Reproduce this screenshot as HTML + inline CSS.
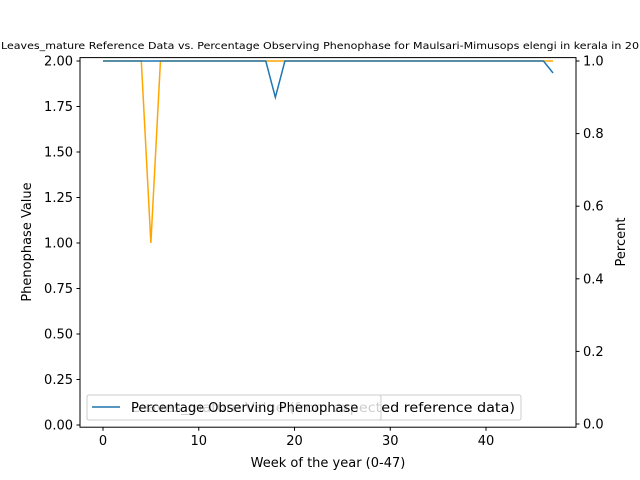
<!DOCTYPE html>
<html><head><meta charset="utf-8"><style>body{margin:0;background:#fff}svg{display:block;font-family:"DejaVu Sans","Liberation Sans",sans-serif}</style></head>
<body>
<svg id="c" width="640" height="480" viewBox="0 0 640 480">
<text x="1" y="49" font-size="9.5" textLength="638" lengthAdjust="spacingAndGlyphs">Leaves_mature Reference Data vs. Percentage Observing Phenophase for Maulsari-Mimusops elengi in kerala in 20</text>
<g id="plot"></g>
</svg>
<script>
const weeks = Array.from({length:48},(_,i)=>i);
const phenoValues = [2,2,2,2,2,1,2,2,2,2,2,2,2,2,2,2,2,2,2,2,2,2,2,2,2,2,2,2,2,2,2,2,2,2,2,2,2,2,2,2,2,2,2,2,2,2,2,2];
const percentValues = [1,1,1,1,1,1,1,1,1,1,1,1,1,1,1,1,1,1,0.9,1,1,1,1,1,1,1,1,1,1,1,1,1,1,1,1,1,1,1,1,1,1,1,1,1,1,1,1,0.967];
const xTicks = [0,10,20,30,40];
const yLeftTicks = [0,0.25,0.5,0.75,1,1.25,1.5,1.75,2];
const yRightTicks = [0,0.2,0.4,0.6,0.8,1];

const L=80,R=576,T=57.6,B=427.2;
const xs = v => 103 + v*9.575;
const yl = v => 425 - v*182;
const yr = v => 424 - v*363;
const g=document.getElementById('plot');
const NS='http://www.w3.org/2000/svg';
function mk(tag,attrs,parent){const e=document.createElementNS(NS,tag);for(const k in attrs)e.setAttribute(k,attrs[k]);(parent||g).appendChild(e);return e;}

const frame=mk('rect',{x:L,y:T,width:R-L,height:B-T,fill:'none',stroke:'#000','stroke-width':1});



xTicks.forEach(v=>{
  const x=xs(v);
  mk('line',{x1:x,x2:x,y1:B,y2:B+3.5,stroke:'#000'});
  const t=mk('text',{x:x,y:B+18,'font-size':13,'text-anchor':'middle'});t.textContent=v;
  
  
});
yLeftTicks.forEach(v=>{
  const y=yl(v);
  mk('line',{x1:L,x2:L-3.5,y1:y,y2:y,stroke:'#000'});
  const t=mk('text',{x:L-7,y:y+4.5,'font-size':13,'text-anchor':'end'});t.textContent=v.toFixed(2);
  
  
});
yRightTicks.forEach(v=>{
  const y=yr(v);
  mk('line',{x1:R,x2:R+3.5,y1:y,y2:y,stroke:'#000'});
  const t=mk('text',{x:R+7,y:y+4.5,'font-size':13,'text-anchor':'start'});t.textContent=v.toFixed(1);
  
  
});

const xl=mk('text',{x:328,y:467,'font-size':13,'text-anchor':'middle'});xl.textContent='Week of the year (0-47)';


const ylt=mk('text',{x:31,y:242,'font-size':13,'text-anchor':'middle',transform:'rotate(-90 31 242)'});ylt.textContent='Phenophase Value';


const yrt=mk('text',{x:625,y:242,'font-size':13,'text-anchor':'middle',transform:'rotate(-90 625 242)'});yrt.textContent='Percent';



const p1=mk('polyline',{points:weeks.map((w,i)=>xs(w)+','+yl(phenoValues[i])).join(' '),fill:'none',stroke:'orange','stroke-width':1.5});


const p2=mk('polyline',{points:weeks.map((w,i)=>xs(w)+','+yr(percentValues[i])).join(' '),fill:'none',stroke:'#1f77b4','stroke-width':1.5});



const lb=mk('g',{});


mk('rect',{x:87,y:395,width:434,height:25,rx:2,fill:'#fff','fill-opacity':0.8,stroke:'#ccc'},lb);
mk('line',{x1:92,x2:120,y1:407,y2:407,stroke:'orange','stroke-width':1.5},lb);
const lt1=mk('text',{x:131,y:412,'font-size':13,textLength:384,lengthAdjust:'spacingAndGlyphs'},lb);lt1.textContent='Leaves_mature Value (from expected reference data)';
const lf=mk('g',{});


mk('rect',{x:87,y:395,width:294,height:25,rx:2,fill:'#fff','fill-opacity':0.8,stroke:'#ccc'},lf);
mk('line',{x1:92,x2:120,y1:407,y2:407,stroke:'#1f77b4','stroke-width':1.5},lf);
const lt2=mk('text',{x:131,y:412,'font-size':13},lf);lt2.textContent='Percentage Observing Phenophase';
</script>
</body></html>
